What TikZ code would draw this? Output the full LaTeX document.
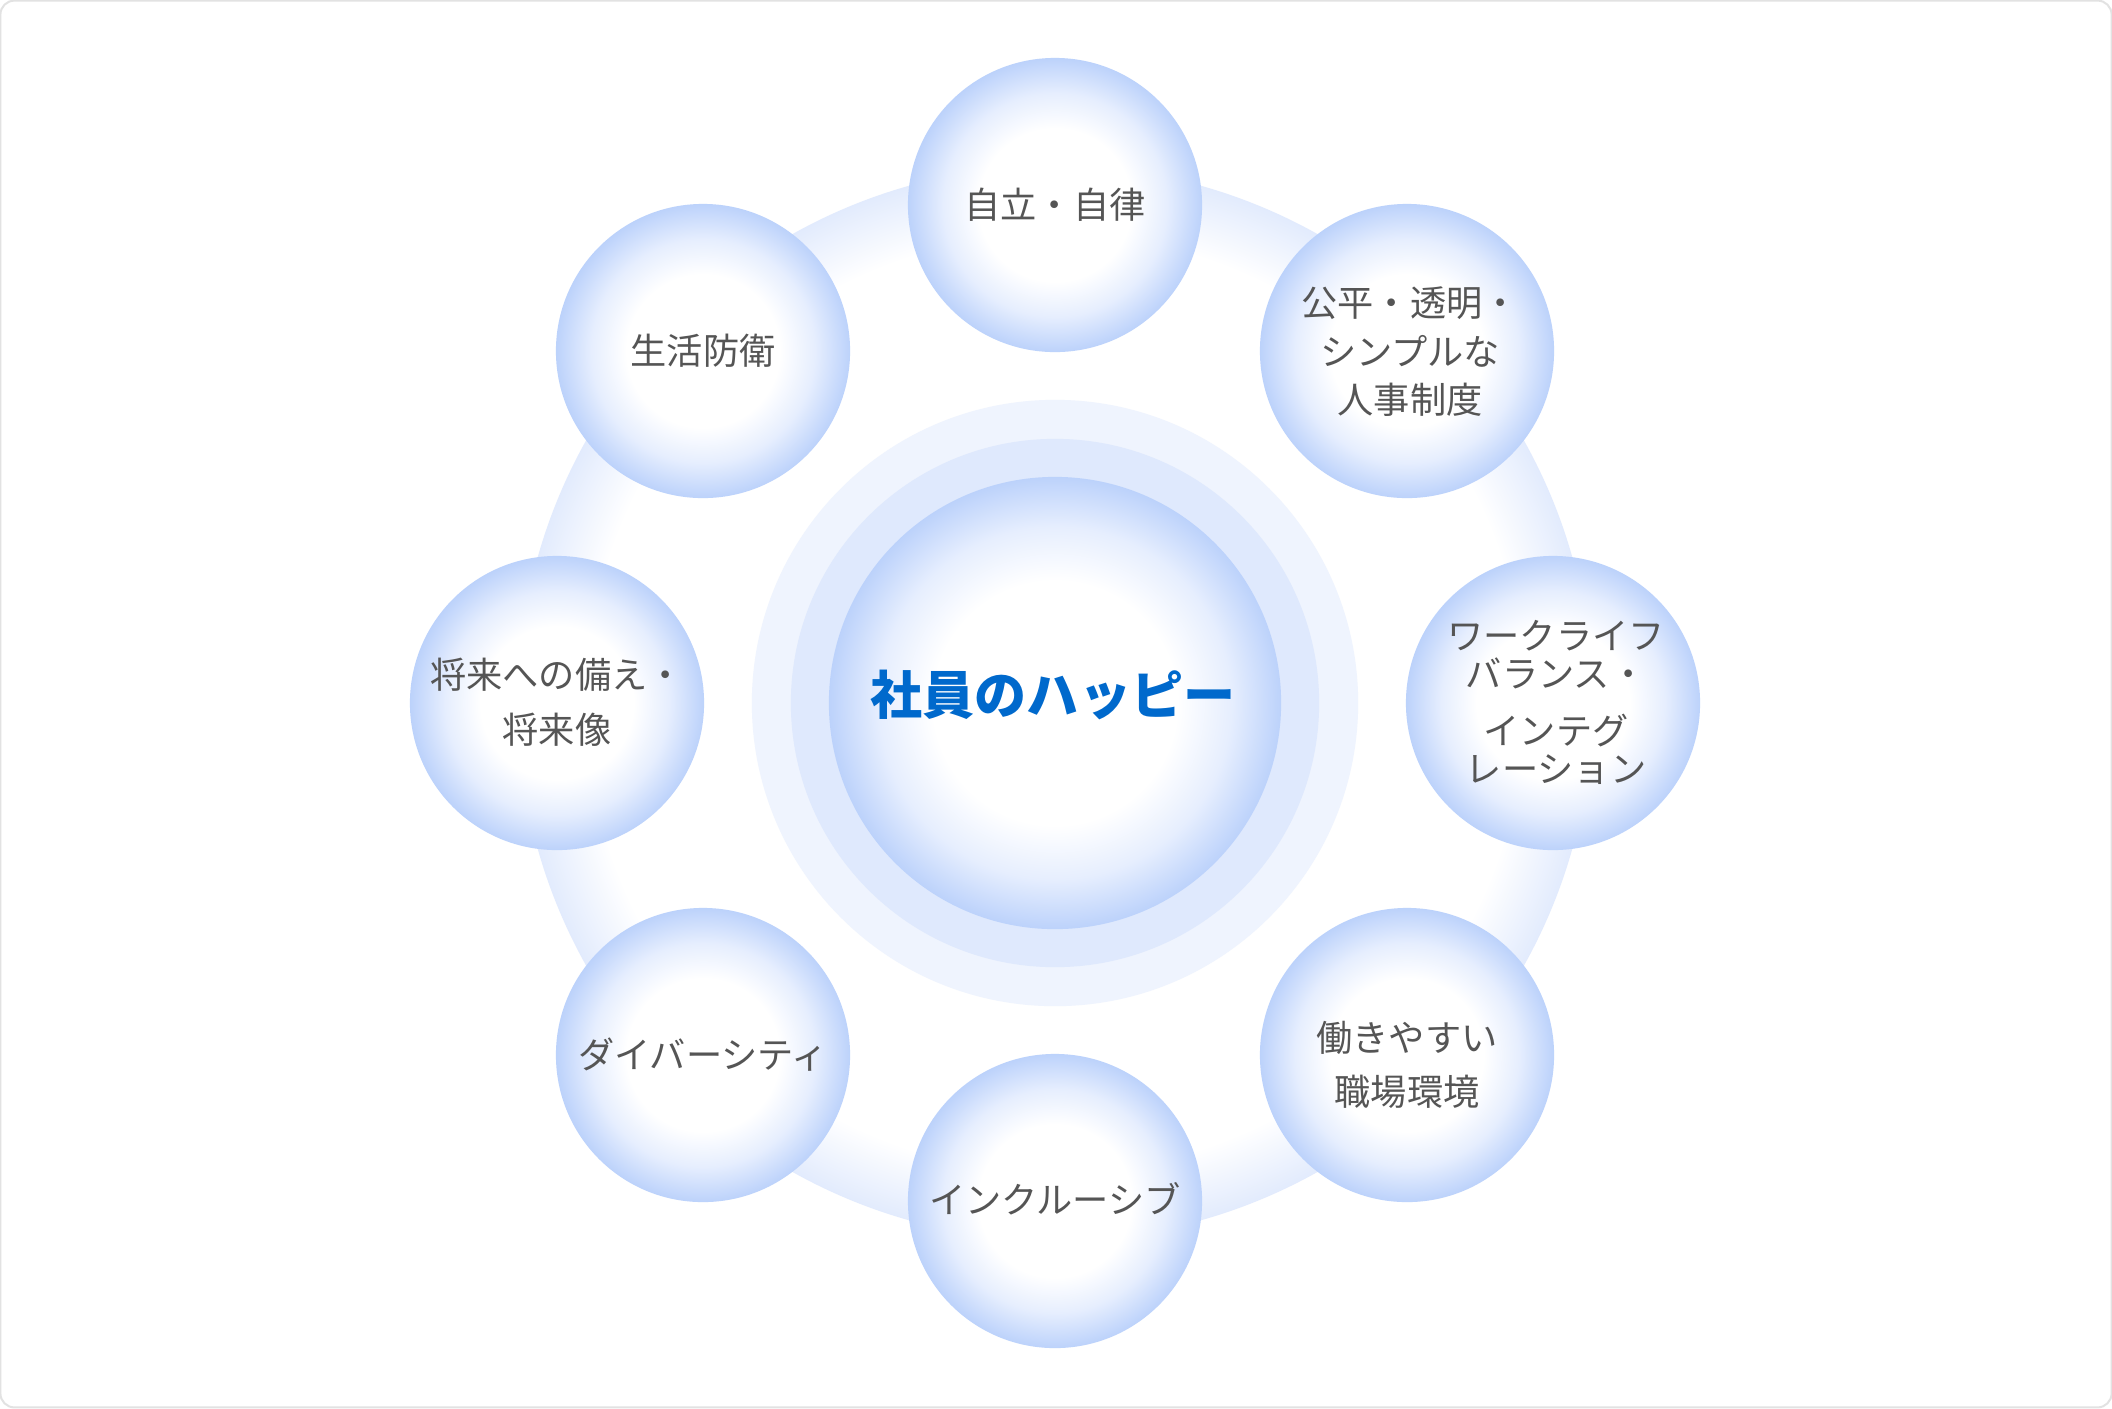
\documentclass[tikz,border=0pt]{standalone}
\usepackage{fontspec}
\newfontfamily\jp{Noto Sans CJK JP}
\definecolor{framegray}{HTML}{E2E2E2}
\definecolor{textgray}{HTML}{555555}
\definecolor{hubblue}{HTML}{0069CC}
\definecolor{satedge}{HTML}{BCD2FB}
\definecolor{satmid}{HTML}{E6EEFE}
\definecolor{ringedge}{HTML}{E2EBFD}
\definecolor{haloouter}{HTML}{EFF4FE}
\definecolor{halomid}{HTML}{DFE9FD}
\pgfdeclareradialshading{satshade}{\pgfpoint{0bp}{0bp}}{color(0bp)=(white); color(13bp)=(white); color(19bp)=(satmid); color(25bp)=(satedge); color(50bp)=(satedge)}
\pgfdeclareradialshading{hubshade}{\pgfpoint{0bp}{0bp}}{color(0bp)=(white); color(13.5bp)=(white); color(19.5bp)=(satmid); color(25bp)=(satedge); color(50bp)=(satedge)}
\pgfdeclareradialshading{ringshade}{\pgfpoint{0bp}{0bp}}{color(0bp)=(white); color(21.8bp)=(white); color(25bp)=(ringedge); color(50bp)=(ringedge)}
\tikzset{
  sat/.style={circle, minimum size=2.94cm, inner sep=0pt, shading=satshade, draw=none},
  sattext/.style={font=\jp\fontsize{10.3pt}{13.8pt}\selectfont, text=textgray, align=center, inner sep=0pt},
  disc/.style={circle, inner sep=0pt, draw=none},
}
\begin{document}
\begin{tikzpicture}[x=0.01cm,y=-0.01cm]
\useasboundingbox (0,0) rectangle (2112,1408);
\node[draw=framegray, line width=0.02cm, fill=white, rounded corners=0.14cm, minimum width=21.1cm, minimum height=14.06cm, inner sep=0pt] (frame) at (1056,704) {};
% big pale ring behind the satellites
\node[disc, minimum size=10.74cm, shading=ringshade] (ring) at (1055,703) {};
% central halo
\node[disc, minimum size=6.06cm, fill=haloouter] (halo1) at (1055,703) {};
\node[disc, minimum size=5.28cm, fill=halomid] (halo2) at (1055,703) {};
\node[disc, minimum size=4.52cm, shading=hubshade] (hub) at (1055,703) {};
\node[font=\jp\bfseries\fontsize{14.8pt}{18pt}\selectfont, text=hubblue, inner sep=0pt] (hubtext) at (1053,695) {社員のハッピー};
% satellites
\node[sat] (s1) at (1055,205) {};
\node[sat] (s2) at (1407,351) {};
\node[sat] (s3) at (1553,703) {};
\node[sat] (s4) at (1407,1055) {};
\node[sat] (s5) at (1055,1201) {};
\node[sat] (s6) at (703,1055) {};
\node[sat] (s7) at (557,703) {};
\node[sat] (s8) at (703,351) {};
% labels
\node[sattext] (t1) at (1055,205) {自立・自律};
\node[sattext] (t2) at (1410,352) {公平・透明・\\シンプルな\\人事制度};
\node[sattext, font=\jp\fontsize{10.3pt}{10.8pt}\selectfont] (t3) at (1556,702) {ワークライフ\\バランス・\\[5.4pt]インテグ\\レーション};
\node[sattext, font=\jp\fontsize{10.3pt}{15.4pt}\selectfont] (t4) at (1407,1065) {働きやすい\\職場環境};
\node[sattext] (t5) at (1055,1199) {インクルーシブ};
\node[sattext] (t6) at (703,1055) {ダイバーシティ};
\node[sattext, font=\jp\fontsize{10.3pt}{15.6pt}\selectfont] (t7) at (557,702) {将来への備え・\\将来像};
\node[sattext] (t8) at (703,351) {生活防衛};
\end{tikzpicture}
\end{document}
